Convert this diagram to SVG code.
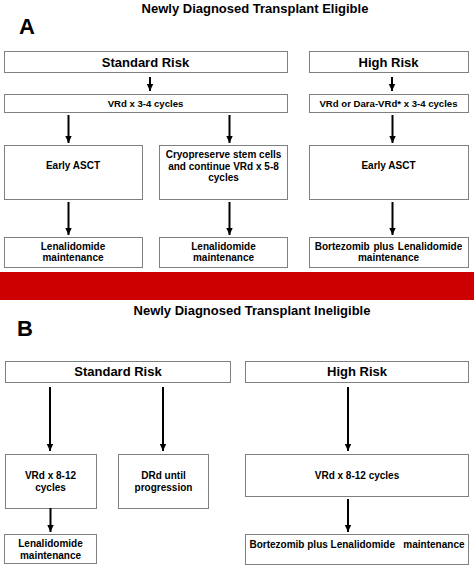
<svg xmlns="http://www.w3.org/2000/svg" width="474" height="568" viewBox="0 0 474 568">
<defs>
<marker id="ah" markerUnits="userSpaceOnUse" markerWidth="8" markerHeight="8" refX="7" refY="4" orient="auto">
<path d="M0,0.8 L7,4 L0,7.2 Z" fill="#000"/>
</marker>
<style>
.box{fill:#fff;stroke:#808080;stroke-width:1}
text{font-family:"Liberation Sans",Arial,sans-serif;font-weight:bold;fill:#000;text-anchor:middle}
.t{font-size:13px}
.big{font-size:22px;text-anchor:start}
.h{font-size:13px}
.s{font-size:9.6px}
.m{font-size:10px}
.c line{stroke:#000;stroke-width:2;marker-end:url(#ah)}
</style>
</defs>
<rect width="474" height="568" fill="#fff"/>

<g id="panelA-labels">
<text class="t" x="255" y="13">Newly Diagnosed Transplant Eligible</text>
<text class="big" x="19" y="34">A</text>
</g>
<g id="a-std"><rect class="box" x="4.5" y="51.5" width="283" height="21"/><text class="h" x="145.5" y="66.5">Standard Risk</text></g>
<g id="a-high"><rect class="box" x="309.5" y="51.5" width="159" height="21"/><text class="h" x="388.5" y="66.5">High Risk</text></g>
<g id="a-vrd"><rect class="box" x="4.5" y="94.5" width="283" height="18"/><text class="s" x="145.5" y="106.5">VRd x 3-4 cycles</text></g>
<g id="a-daravrd"><rect class="box" x="309.5" y="94.5" width="159" height="18"/><text class="s" x="388.5" y="106.5">VRd or Dara-VRd* x 3-4 cycles</text></g>
<g id="a-asct1"><rect class="box" x="4.5" y="145.5" width="138" height="54"/><text class="m" x="73" y="169">Early ASCT</text></g>
<g id="a-cryo"><rect class="box" x="159.5" y="145.5" width="128" height="54"/><text class="m" x="223.5" y="158.3">Cryopreserve stem cells</text><text class="m" x="223.5" y="169.5">and continue VRd x 5-8</text><text class="m" x="223.5" y="180.8">cycles</text></g>
<g id="a-asct2"><rect class="box" x="309.5" y="145.5" width="159" height="54"/><text class="m" x="388.5" y="169">Early ASCT</text></g>
<g id="a-len1"><rect class="box" x="4.5" y="237.5" width="138" height="30"/><text class="m" x="73" y="249.5">Lenalidomide</text><text class="m" x="73" y="261">maintenance</text></g>
<g id="a-len2"><rect class="box" x="159.5" y="237.5" width="128" height="30"/><text class="m" x="223.5" y="249.5">Lenalidomide</text><text class="m" x="223.5" y="261">maintenance</text></g>
<g id="a-bort"><rect class="box" x="309.5" y="237.5" width="159" height="30"/><text class="m" x="388.5" y="249.5" word-spacing="1">Bortezomib plus Lenalidomide</text><text class="m" x="388.5" y="261">maintenance</text></g>

<rect id="divider" x="0" y="272" width="474" height="28" fill="#CC0000"/>

<g id="panelB-labels">
<text class="t" x="252" y="315">Newly Diagnosed Transplant Ineligible</text>
<text class="big" x="17" y="336">B</text>
</g>
<g id="b-std"><rect class="box" x="5.5" y="361.5" width="225" height="21"/><text class="h" x="118" y="375.7">Standard Risk</text></g>
<g id="b-high"><rect class="box" x="245.5" y="361.5" width="223" height="21"/><text class="h" x="357" y="375.7">High Risk</text></g>
<g id="b-vrd"><rect class="box" x="5.5" y="454.5" width="91" height="54"/><text class="m" x="50.5" y="479">VRd x 8-12</text><text class="m" x="50.5" y="490.5">cycles</text></g>
<g id="b-drd"><rect class="box" x="118.5" y="454.5" width="90" height="54"/><text class="m" x="163.5" y="479">DRd until</text><text class="m" x="163.5" y="490.5">progression</text></g>
<g id="b-vrd2"><rect class="box" x="245.5" y="454.5" width="223" height="42"/><text class="m" x="357" y="479">VRd x 8-12 cycles</text></g>
<g id="b-len"><rect class="box" x="4.5" y="534.5" width="92" height="29"/><text class="m" x="50.5" y="547">Lenalidomide</text><text class="m" x="50.5" y="559">maintenance</text></g>
<g id="b-bort"><rect class="box" x="245.5" y="534.5" width="223" height="30"/><text class="m" x="357" y="547.7" xml:space="preserve">Bortezomib plus Lenalidomide   maintenance</text></g>

<g id="connectors" class="c">
<line x1="150" y1="77" x2="150" y2="91"/>
<line x1="392" y1="77" x2="392" y2="91"/>
<line x1="68.5" y1="115" x2="68.5" y2="143"/>
<line x1="229.5" y1="115" x2="229.5" y2="143"/>
<line x1="392.5" y1="115" x2="392.5" y2="143"/>
<line x1="68.5" y1="202" x2="68.5" y2="235"/>
<line x1="229.5" y1="202" x2="229.5" y2="235"/>
<line x1="392.5" y1="202" x2="392.5" y2="235"/>
<line x1="50" y1="387" x2="50" y2="451"/>
<line x1="163" y1="387" x2="163" y2="451"/>
<line x1="348" y1="387" x2="348" y2="451"/>
<line x1="50.5" y1="508" x2="50.5" y2="532"/>
<line x1="348" y1="499" x2="348" y2="532"/>
</g>
</svg>
